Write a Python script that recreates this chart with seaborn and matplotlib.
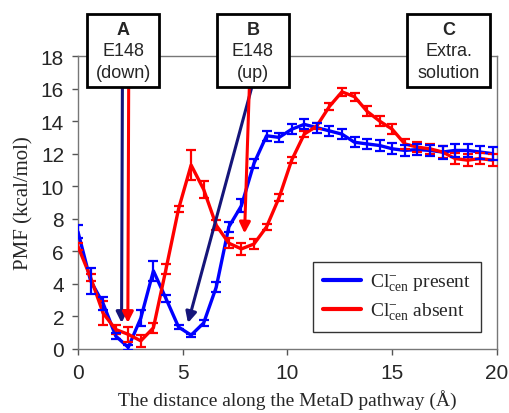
import numpy as np
import pandas as pd
import seaborn as sns
import matplotlib.pyplot as plt
from matplotlib.patches import Rectangle

# distance along the MetaD pathway (A)
dist = [0.0, 0.6, 1.2, 1.8, 2.4, 3.0, 3.6, 4.2, 4.8, 5.4, 6.0, 6.6, 7.2, 7.8, 8.4, 9.0, 9.6,
        10.2, 10.8, 11.4, 12.0, 12.6, 13.2, 13.8, 14.4, 15.0, 15.6, 16.2, 16.8, 17.4, 18.0,
        18.6, 19.2, 19.8]

# Cl-cen present
pmf_present = [7.2, 4.2, 2.8, 0.8, 0.1, 1.9, 4.8, 3.1, 1.35, 0.85, 1.6, 3.8, 7.5, 8.8, 11.4,
               13.1, 13.0, 13.5, 13.8, 13.6, 13.4, 13.2, 12.7, 12.6, 12.5, 12.3, 12.2, 12.25,
               12.2, 12.1, 12.2, 12.2, 12.1, 12.0]
err_present = [0.4, 0.8, 0.4, 0.2, 0.15, 0.5, 0.6, 0.2, 0.1, 0.1, 0.2, 0.3, 0.3, 0.4, 0.3,
               0.3, 0.3, 0.3, 0.3, 0.3, 0.3, 0.3, 0.3, 0.3, 0.35, 0.35, 0.35, 0.35, 0.35, 0.4,
               0.4, 0.4, 0.4, 0.4]

# Cl-cen absent
pmf_absent = [6.3, 4.4, 2.2, 1.2, 0.9, 0.5, 1.3, 4.9, 8.6, 11.3, 9.8, 7.6, 6.5, 6.15, 6.45,
              7.5, 9.3, 11.6, 13.2, 13.7, 14.9, 15.8, 15.5, 14.6, 14.0, 13.5, 12.6, 12.4,
              12.3, 12.1, 11.7, 11.6, 11.7, 11.6]
err_absent = [0.2, 0.2, 0.75, 0.3, 0.45, 0.35, 0.3, 0.3, 0.2, 0.9, 0.5, 0.3, 0.3, 0.35, 0.3,
              0.2, 0.2, 0.2, 0.2, 0.2, 0.2, 0.25, 0.25, 0.3, 0.3, 0.3, 0.3, 0.3, 0.3, 0.35,
              0.35, 0.35, 0.35, 0.35]

# annotation boxes: (x0, x1, title, line1, line2)
boxes = [(0.43, 3.87, 'A', 'E148', '(down)'),
         (6.63, 10.07, 'B', 'E148', '(up)'),
         (15.7, 19.67, 'C', 'Extra.', 'solution')]

# arrows: (start, tip, colour)
navy = '#15157a'
arrows = [((2.12, 16.1), (2.08, 1.6), navy),
          ((2.42, 16.1), (2.38, 1.6), 'red'),
          ((8.3, 16.1), (5.25, 1.6), navy),
          ((8.18, 16.1), (7.95, 7.1), 'red')]

sns.set_style('white')
plt.rcParams['font.family'] = ['Liberation Sans', 'DejaVu Sans']
plt.rcParams['mathtext.fontset'] = 'custom'
plt.rcParams['mathtext.rm'] = 'Liberation Serif'
plt.rcParams['mathtext.it'] = 'Liberation Serif:italic'

df = pd.DataFrame({'x': dist * 2,
                   'pmf': pmf_present + pmf_absent,
                   'err': err_present + err_absent,
                   'state': ['present'] * len(dist) + ['absent'] * len(dist)})

fig = plt.figure(figsize=(5.09, 4.14), dpi=100)
ax = fig.add_axes([0.1532, 0.1546, 0.8232, 0.7077])

pal = {'present': '#0000ff', 'absent': '#ff0000'}
sns.lineplot(data=df, x='x', y='pmf', hue='state', palette=pal, lw=2.4, ax=ax,
             legend=False, zorder=3)
for st, g in df.groupby('state'):
    ax.errorbar(g['x'], g['pmf'], yerr=g['err'], fmt='none', ecolor=pal[st],
                elinewidth=1.6, capsize=3.5, capthick=1.6, zorder=3)

ax.set_xlim(0, 20)
ax.set_ylim(0, 18)
ax.set_xticks([0, 5, 10, 15, 20])
ax.set_yticks(range(0, 19, 2))
ax.tick_params(axis='both', labelsize=15, length=4, width=1, color='#555555',
               direction='out', pad=6)
ax.tick_params(axis='y', left=True)
ax.tick_params(axis='x', bottom=True)
for sp in ax.spines.values():
    sp.set_color('#777777')
    sp.set_linewidth(1)

ax.set_xlabel('The distance along the MetaD pathway (Å)', fontsize=14,
              fontfamily='Liberation Serif', labelpad=5)
ax.set_ylabel('PMF (kcal/mol)', fontsize=15, fontfamily='Liberation Serif', labelpad=5)

for start, tip, c in arrows:
    ax.annotate('', xy=tip, xytext=start, annotation_clip=False, zorder=4,
                arrowprops=dict(arrowstyle='-|>', color=c, lw=2.2, mutation_scale=16,
                                shrinkA=0, shrinkB=0))

for x0, x1, t, l1, l2 in boxes:
    ax.add_patch(Rectangle((x0, 16.1), x1 - x0, 4.5, facecolor='white', edgecolor='black',
                           lw=2, clip_on=False, zorder=6))
    xc = (x0 + x1) / 2
    ax.text(xc, 19.65, t, ha='center', va='center', fontsize=13, fontweight='bold',
            zorder=7, clip_on=False)
    ax.text(xc, 18.35, l1, ha='center', va='center', fontsize=13, zorder=7, clip_on=False)
    ax.text(xc, 17.0, l2, ha='center', va='center', fontsize=13, zorder=7, clip_on=False)

h1, = ax.plot([], [], color='#0000ff', lw=3)
h2, = ax.plot([], [], color='#ff0000', lw=3)
leg = ax.legend([h1, h2], [r'Cl$^{-}_{\rm cen}$ present', r'Cl$^{-}_{\rm cen}$ absent'],
                loc='lower right', bbox_to_anchor=(0.962, 0.058), borderaxespad=0,
                fancybox=False, framealpha=1, edgecolor='#333333', handlelength=2.0,
                handletextpad=0.45, prop={'family': 'Liberation Serif', 'size': 14},
                borderpad=0.5, labelspacing=0.4)
leg.get_frame().set_linewidth(1)

fig.savefig('out.png', dpi=100)
